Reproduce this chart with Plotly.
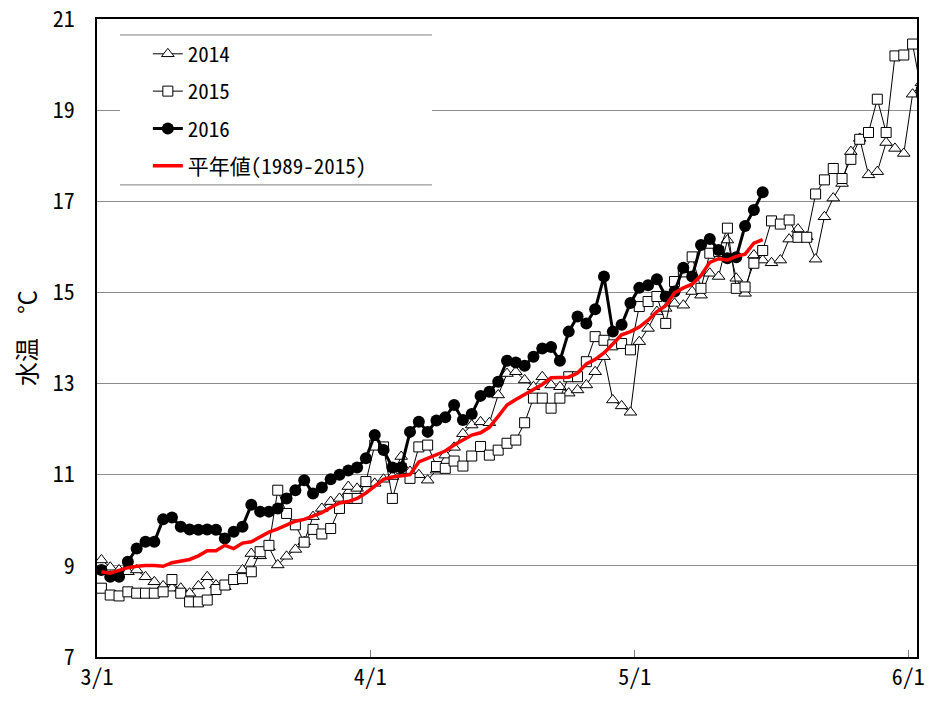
import pandas as pd
import plotly.graph_objects as go

# daily values from 3/1 (index 0) to 6/2 (index 93)
dates = pd.date_range("2016-03-01", periods=94, freq="D") + pd.Timedelta(hours=12)

tick_vals = ["2016-03-01", "2016-04-01", "2016-05-01", "2016-06-01"]
tick_text = ["3/1", "4/1", "5/1", "6/1"]

y2014 = [9.13, 8.97, 8.91, 8.87, 8.91, 8.76, 8.65, 8.56, 8.51, 8.51,
         8.40, 8.56, 8.76, 8.58, 8.54, 8.69, 8.91, 9.27, 9.22, 9.41,
         9.02, 9.21, 9.36, 9.53, 10.08, 10.26, 10.41, 10.48, 10.74, 10.70,
         10.80, 10.81, 10.90, 10.96, 11.40, 11.07, 11.00, 10.88, 11.10, 11.43,
         11.60, 11.90, 12.09, 12.16, 12.14, 12.75, 13.22, 13.26, 13.08, 12.93,
         13.15, 12.97, 12.93, 12.79, 12.86, 12.97, 13.26, 13.59, 12.64, 12.51,
         12.37, 13.92, 14.21, 14.58, 14.65, 14.76, 14.72, 15.02, 14.94, 15.42,
         15.35, 16.15, 15.31, 14.98, 15.82, 15.71, 15.65, 15.71, 16.17, 16.39,
         16.22, 15.73, 16.66, 17.07, 17.39, 18.09, 18.38, 17.58, 17.65, 18.29,
         18.16, 18.05, 19.35, 19.60]

y2015 = [8.51, 8.36, 8.34, 8.43, 8.40, 8.40, 8.40, 8.43, 8.70, 8.40,
         8.21, 8.21, 8.25, 8.48, 8.58, 8.70, 8.72, 8.87, 9.31, 9.45,
         10.66, 10.15, 9.90, 9.52, 9.80, 9.70, 9.82, 10.26, 10.48, 10.48,
         10.85, 11.65, 11.61, 10.48, 11.14, 10.92, 11.61, 11.65, 11.18, 11.14,
         11.30, 11.19, 11.41, 11.62, 11.43, 11.54, 11.69, 11.76, 12.14, 12.68,
         12.68, 12.46, 12.68, 13.15, 13.15, 13.48, 14.03, 13.95, 13.85, 13.88,
         13.74, 14.69, 14.80, 14.91, 14.32, 15.24, 15.45, 15.78, 15.09, 15.86,
         15.90, 16.41, 15.09, 15.12, 15.64, 15.92, 16.57, 16.50, 16.59, 16.21,
         16.21, 17.16, 17.47, 17.72, 17.50, 17.92, 18.36, 18.51, 19.24, 18.51,
         20.19, 20.21, 20.45, 19.40]

y2016 = [8.91, 8.76, 8.76, 9.09, 9.38, 9.53, 9.53, 10.02, 10.06, 9.86,
         9.80, 9.79, 9.80, 9.79, 9.60, 9.75, 9.86, 10.34, 10.19, 10.19,
         10.26, 10.48, 10.66, 10.88, 10.59, 10.72, 10.90, 11.00, 11.09, 11.16,
         11.36, 11.87, 11.54, 11.16, 11.16, 11.94, 12.16, 11.94, 12.19, 12.26,
         12.53, 12.20, 12.33, 12.73, 12.82, 13.04, 13.50, 13.46, 13.39, 13.59,
         13.77, 13.80, 13.50, 14.14, 14.47, 14.32, 14.63, 15.35, 14.14, 14.29,
         14.77, 15.10, 15.16, 15.29, 14.91, 15.02, 15.54, 15.35, 16.04, 16.17,
         15.93, 15.75, 15.77, 16.46, 16.81, 17.20]

y_normal = [8.87, 8.84, 8.90, 8.96, 8.99, 9.01, 9.01, 8.99, 9.07, 9.11,
            9.14, 9.22, 9.33, 9.33, 9.45, 9.38, 9.50, 9.53, 9.64, 9.74,
            9.81, 9.90, 9.98, 10.02, 10.09, 10.17, 10.28, 10.38, 10.41, 10.48,
            10.60, 10.75, 10.90, 10.95, 10.98, 11.00, 11.28, 11.36, 11.42, 11.52,
            11.65, 11.76, 11.87, 11.92, 12.04, 12.28, 12.53, 12.65, 12.76, 12.86,
            12.98, 13.13, 13.14, 13.14, 13.23, 13.43, 13.53, 13.67, 13.87, 14.07,
            14.14, 14.24, 14.39, 14.58, 14.71, 14.99, 15.10, 15.18, 15.37, 15.66,
            15.74, 15.71, 15.79, 15.84, 16.08, 16.16]

names = ["2014", "2015", "2016", "平年値(1989-2015)"]

FONT = "Noto Sans Mono CJK JP, Noto Sans CJK JP, sans-serif"

fig = go.Figure()
fig.add_trace(go.Scatter(
    x=dates[:len(y2014)], y=y2014, name=names[0], mode="lines+markers",
    line=dict(color="black", width=1),
    marker=dict(symbol="triangle-up", size=11, color="white",
                line=dict(color="black", width=1)),
    legendgroup="a"))
fig.add_trace(go.Scatter(
    x=dates[:len(y2015)], y=y2015, name=names[1], mode="lines+markers",
    line=dict(color="black", width=1),
    marker=dict(symbol="square", size=10, color="white",
                line=dict(color="black", width=1)),
    legendgroup="b"))
fig.add_trace(go.Scatter(
    x=dates[:len(y2016)], y=y2016, name=names[2], mode="lines+markers",
    line=dict(color="black", width=3),
    marker=dict(symbol="circle", size=12, color="black"),
    legendgroup="c"))
fig.add_trace(go.Scatter(
    x=dates[:len(y_normal)], y=y_normal, name=names[3], mode="lines",
    line=dict(color="#ff0000", width=3.5),
    legendgroup="d"))

# legend box: white background with top and bottom rules
fig.add_shape(type="rect", xref="paper", yref="paper",
              x0=0.028, x1=0.4085, y0=0.74, y1=0.975,
              fillcolor="white", line=dict(width=0), layer="above")
for yy in (0.975, 0.74):
    fig.add_shape(type="line", xref="paper", yref="paper",
                  x0=0.028, x1=0.4085, y0=yy, y1=yy,
                  line=dict(color="#808080", width=1), layer="above")

fig.update_layout(
    width=931, height=702,
    margin=dict(l=97, r=14, t=19, b=45),
    paper_bgcolor="white", plot_bgcolor="white",
    font=dict(family=FONT, size=21, color="black"),
    showlegend=True,
    legend=dict(x=0.062, y=0.977, xanchor="left", yanchor="top",
                bgcolor="rgba(0,0,0,0)", borderwidth=0,
                font=dict(family=FONT, size=21),
                tracegroupgap=7, itemwidth=30),
)
fig.update_xaxes(
    type="date", range=["2016-03-01", "2016-06-02"],
    tickvals=tick_vals, ticktext=tick_text,
    ticks="inside", ticklen=7, tickcolor="#808080", tickwidth=1,
    showgrid=False, zeroline=False, automargin=False,
    ticklabeloverflow="allow",
    showline=True, linecolor="black", linewidth=1.5, mirror=True,
    tickfont=dict(family=FONT, size=22),
)
fig.update_yaxes(
    range=[7, 21], dtick=2, tick0=7,
    showgrid=True, gridcolor="#8c8c8c", gridwidth=1,
    zeroline=False, ticks="", automargin=False,
    ticklabeloverflow="allow",
    showline=True, linecolor="black", linewidth=1.5, mirror=True,
    tickfont=dict(family=FONT, size=22),
    ticklabelstandoff=16,
    title=dict(text="水温　℃", font=dict(family=FONT, size=24), standoff=9),
)

# remove the browser's default 8px page margin so the figure fills the window
fig.write_html("out.html", config={"displayModeBar": False},
               post_script="document.body.style.margin='0';")
